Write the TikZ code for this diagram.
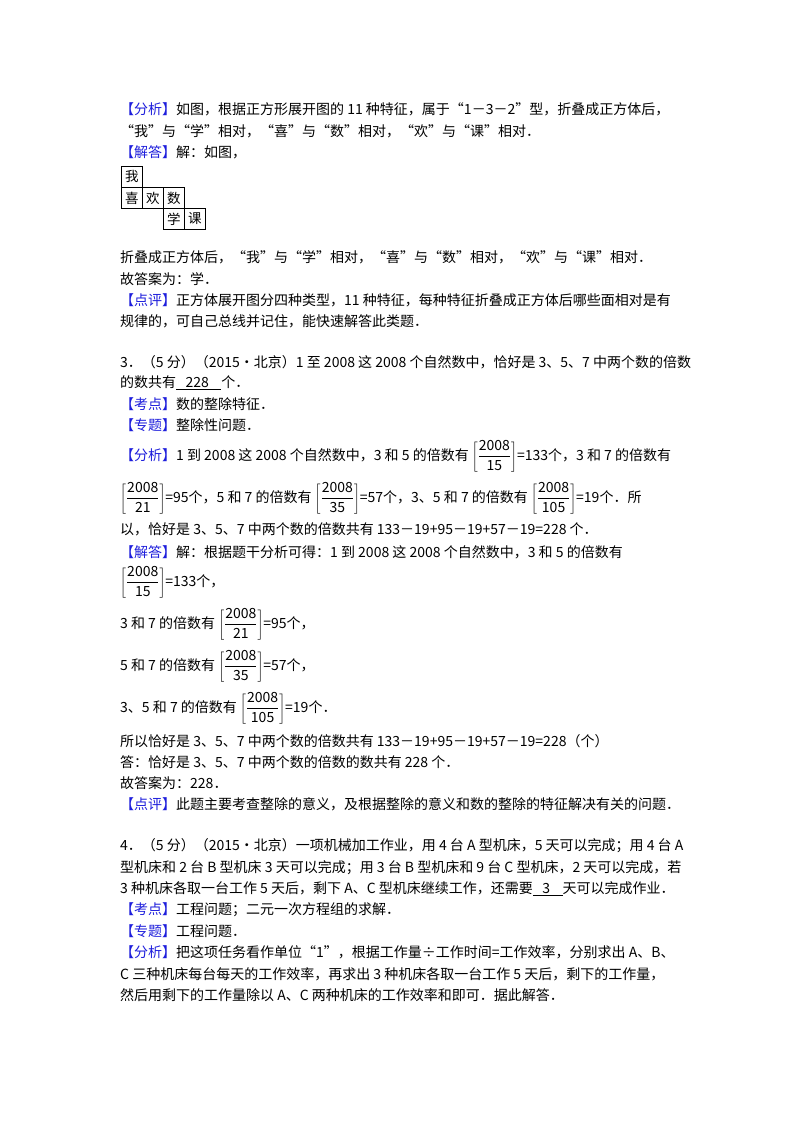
\documentclass[tikz,border=0pt]{standalone}
\usepackage{fontspec}
\setmainfont{Noto Sans CJK SC}
\definecolor{kb}{RGB}{30,30,220}
\newcommand{\K}[1]{\textcolor{kb}{【#1】}}
\newcommand{\F}[2]{$\left[\displaystyle\frac{\mathrm{#1}}{\mathrm{#2}}\right]$}
\begin{document}
\begin{tikzpicture}[x=1pt,y=-1pt,ln/.style={anchor=west,inner sep=0pt,font=\fontsize{14}{16}\selectfont},cell/.style={draw,thick,minimum size=21pt,inner sep=0pt,anchor=north west,font=\fontsize{13.5}{16}\selectfont}]
\useasboundingbox[fill=white] (0,0) rectangle (800,1133);
\node[ln] (l1) at (120,109) {\K{分析}如图，根据正方形展开图的 11 种特征，属于“1－3－2”型，折叠成正方体后，};
\node[ln] (l2) at (120,131) {“我”与“学”相对，“喜”与“数”相对，“欢”与“课”相对．};
\node[ln] (l3) at (120,152) {\K{解答}解：如图，};
\node[cell] (c1) at (121,166) {我};
\node[cell] (c2) at (121,187) {喜};
\node[cell] (c3) at (142,187) {欢};
\node[cell] (c4) at (163,187) {数};
\node[cell] (c5) at (163,208) {学};
\node[cell] (c6) at (184,208) {课};
\node[ln] (l4) at (120,257) {折叠成正方体后，“我”与“学”相对，“喜”与“数”相对，“欢”与“课”相对．};
\node[ln] (l5) at (120,279) {故答案为：学．};
\node[ln] (l6) at (120,300) {\K{点评}正方体展开图分四种类型，11 种特征，每种特征折叠成正方体后哪些面相对是有};
\node[ln] (l7) at (120,321) {规律的，可自己总线并记住，能快速解答此类题．};
\node[ln] (l8) at (120,362) {3．（5 分）（2015•北京）1 至 2008 这 2008 个自然数中，恰好是 3、5、7 中两个数的倍数};
\node[ln] (l9) at (120,383) {的数共有\underline{\ \ \ 228\ \ \ \ }个．};
\node[ln] (l10) at (120,404) {\K{考点}数的整除特征．};
\node[ln] (l11) at (120,425) {\K{专题}整除性问题．};
\node[ln] (l12) at (120,456) {\K{分析}1 到 2008 这 2008 个自然数中，3 和 5 的倍数有 \F{2008}{15}=133个，3 和 7 的倍数有};
\node[ln] (l13) at (120,498) {\F{2008}{21}=95个，5 和 7 的倍数有 \F{2008}{35}=57个，3、5 和 7 的倍数有 \F{2008}{105}=19个．所};
\node[ln] (l14) at (120,529) {以，恰好是 3、5、7 中两个数的倍数共有 133－19+95－19+57－19=228 个．};
\node[ln] (l15) at (120,552) {\K{解答}解：根据题干分析可得：1 到 2008 这 2008 个自然数中，3 和 5 的倍数有};
\node[ln] (l16) at (120,582) {\F{2008}{15}=133个，};
\node[ln] (l17) at (120,624) {3 和 7 的倍数有 \F{2008}{21}=95个，};
\node[ln] (l18) at (120,666) {5 和 7 的倍数有 \F{2008}{35}=57个，};
\node[ln] (l19) at (120,708) {3、5 和 7 的倍数有 \F{2008}{105}=19个．};
\node[ln] (l20) at (120,741) {所以恰好是 3、5、7 中两个数的倍数共有 133－19+95－19+57－19=228（个）};
\node[ln] (l21) at (120,762) {答：恰好是 3、5、7 中两个数的倍数的数共有 228 个．};
\node[ln] (l22) at (120,783) {故答案为：228．};
\node[ln] (l23) at (120,804) {\K{点评}此题主要考查整除的意义，及根据整除的意义和数的整除的特征解决有关的问题．};
\node[ln] (l24) at (120,846) {4．（5 分）（2015•北京）一项机械加工作业，用 4 台 A 型机床，5 天可以完成；用 4 台 A};
\node[ln] (l25) at (120,868) {型机床和 2 台 B 型机床 3 天可以完成；用 3 台 B 型机床和 9 台 C 型机床，2 天可以完成，若};
\node[ln] (l26) at (120,889) {3 种机床各取一台工作 5 天后，剩下 A、C 型机床继续工作，还需要\underline{\ \ \ 3\ \ \ \ }天可以完成作业．};
\node[ln] (l27) at (120,910) {\K{考点}工程问题；二元一次方程组的求解．};
\node[ln] (l28) at (120,931) {\K{专题}工程问题．};
\node[ln] (l29) at (120,952) {\K{分析}把这项任务看作单位“1”，根据工作量÷工作时间=工作效率，分别求出 A、B、};
\node[ln] (l30) at (120,974) {C 三种机床每台每天的工作效率，再求出 3 种机床各取一台工作 5 天后，剩下的工作量，};
\node[ln] (l31) at (120,995) {然后用剩下的工作量除以 A、C 两种机床的工作效率和即可．据此解答．};
\end{tikzpicture}
\end{document}
